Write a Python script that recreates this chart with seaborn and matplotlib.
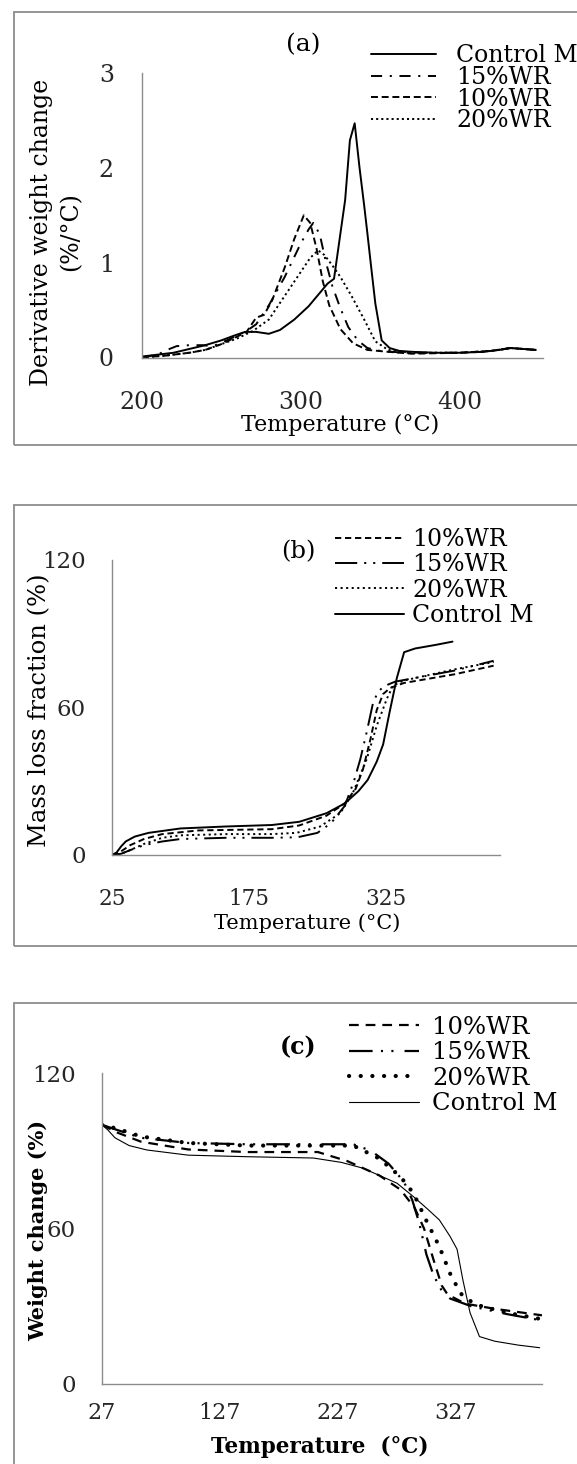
import matplotlib
matplotlib.use("Agg")
import matplotlib.pyplot as plt
from matplotlib.patches import Rectangle
import seaborn as sns

# ---- panel (a): derivative weight change (%/°C) ----
a_ctrl_t = [200, 210, 220, 230, 240, 250, 258, 265, 272, 280, 287, 296, 305, 312, 317, 321, 328, 331, 334, 337, 340, 342, 344, 347, 351, 356, 362, 370, 385, 400, 415, 425, 432, 440, 448]
a_ctrl_y = [0.01, 0.03, 0.05, 0.09, 0.13, 0.18, 0.23, 0.27, 0.27, 0.25, 0.29, 0.40, 0.54, 0.68, 0.78, 0.83, 1.66, 2.29, 2.47, 2.01, 1.60, 1.31, 1.01, 0.57, 0.18, 0.10, 0.07, 0.06, 0.05, 0.05, 0.06, 0.08, 0.10, 0.09, 0.08]
a_15_t = [200, 210, 216, 222, 230, 238, 245, 252, 260, 266, 272, 280, 290, 300, 305, 308, 312, 316, 320, 325, 330, 336, 342, 350, 365, 380, 400, 415, 425, 432, 440, 448]
a_15_y = [0.0, 0.03, 0.08, 0.12, 0.13, 0.13, 0.12, 0.17, 0.23, 0.28, 0.35, 0.55, 0.85, 1.20, 1.35, 1.42, 1.30, 1.00, 0.75, 0.52, 0.32, 0.18, 0.10, 0.07, 0.05, 0.05, 0.05, 0.06, 0.08, 0.10, 0.09, 0.08]
a_10_t = [200, 215, 230, 240, 250, 260, 266, 272, 277, 282, 290, 296, 302, 306, 310, 314, 318, 325, 333, 342, 355, 370, 400, 420, 432, 448]
a_10_y = [0.0, 0.02, 0.05, 0.08, 0.14, 0.22, 0.27, 0.42, 0.45, 0.60, 0.95, 1.25, 1.50, 1.42, 1.15, 0.80, 0.55, 0.30, 0.15, 0.08, 0.06, 0.04, 0.05, 0.07, 0.10, 0.08]
a_20_t = [200, 215, 230, 240, 250, 260, 270, 280, 290, 300, 306, 311, 315, 320, 325, 332, 340, 347, 355, 370, 400, 420, 432, 448]
a_20_y = [0.0, 0.02, 0.05, 0.08, 0.14, 0.20, 0.28, 0.40, 0.65, 0.90, 1.05, 1.13, 1.08, 0.97, 0.85, 0.65, 0.40, 0.17, 0.08, 0.05, 0.05, 0.07, 0.10, 0.08]

# ---- panel (b): mass loss fraction (%) ----
b_ctrl_t = [25, 30, 35, 40, 50, 65, 100, 150, 200, 230, 260, 280, 295, 305, 315, 322, 329, 337, 345, 357, 380, 398]
b_ctrl_y = [0, 1, 3.5, 5.5, 7.5, 9, 10.8, 11.6, 12.2, 13.5, 17, 21, 26, 30.5, 38, 45, 58, 72, 82.5, 84, 85.5, 86.8]
b_10_t = [25, 35, 45, 60, 80, 120, 200, 230, 260, 280, 292, 300, 308, 315, 322, 330, 345, 400, 443]
b_10_y = [0, 1.5, 4, 6.5, 8.5, 10, 10.5, 12, 16, 21, 27, 35, 47, 59, 65.5, 68, 70, 73.5, 77]
b_15_t = [25, 35, 45, 60, 80, 100, 150, 200, 228, 250, 265, 280, 290, 297, 304, 311, 316, 322, 335, 400, 443]
b_15_y = [0, 0.5, 2, 4, 5.5, 6.5, 7, 7, 7.2, 9, 13, 20, 30, 39, 50, 62, 66, 68.5, 70.5, 75, 79]
b_20_t = [25, 35, 45, 60, 80, 100, 150, 200, 227, 253, 275, 289, 304, 315, 326, 333, 345, 400, 443]
b_20_y = [0, 0.5, 2, 4.5, 7, 8, 8.5, 8.5, 9, 11.6, 17, 25.4, 39, 52.6, 63.5, 69, 71, 75.5, 78.5]

# ---- panel (c): weight change (%) ----
c_ctrl_t = [27, 32, 38, 50, 65, 100, 150, 206, 230, 248, 262, 277, 291, 303, 313, 322, 328, 333, 339, 347, 360, 380, 398]
c_ctrl_y = [100, 98, 95, 92, 90.3, 88.3, 87.7, 87.2, 85.5, 83.3, 80.5, 77.5, 72.3, 67.5, 63.3, 57, 52, 40, 27.5, 18.3, 16.5, 15, 14]
c_10_t = [27, 40, 60, 100, 150, 210, 235, 262, 280, 292, 300, 308, 315, 320, 335, 360, 400]
c_10_y = [100, 97, 93.5, 90.5, 89.5, 89.5, 86, 80.5, 75, 68, 60, 48, 38, 34.5, 31, 29, 26.5]
c_15_t = [27, 40, 60, 100, 150, 240, 255, 270, 283, 290, 296, 302, 308, 315, 322, 340, 370, 400]
c_15_y = [100, 98, 95, 93, 92.5, 92.5, 90, 85, 78, 71, 62, 50, 42, 36, 33, 30, 27, 24.5]
c_20_t = [27, 40, 60, 100, 150, 240, 262, 280, 291, 302, 313, 322, 328, 333, 345, 370, 400]
c_20_y = [100, 98.5, 95.5, 93, 92, 92, 87, 80, 73.6, 63, 53, 42.7, 37.5, 33.7, 30.5, 27.5, 25]

W, H = 577, 1464
GRAY = "#8c8c8c"

sns.set_style("white")
plt.rcParams["font.family"] = ["DejaVu Serif"]
plt.rcParams["lines.scale_dashes"] = False
plt.rcParams["text.color"] = "black"

fig = plt.figure(figsize=(W / 100, H / 100), dpi=100)


def fx(px):
    return px / W


def fy(py):
    return 1 - py / H


def make_axes(left, right, top, bottom):
    ax = fig.add_axes([fx(left), fy(bottom), fx(right) - fx(left), fy(top) - fy(bottom)])
    ax.set_facecolor("none")
    sns.despine(ax=ax)
    for s in ("left", "bottom"):
        ax.spines[s].set_color(GRAY)
        ax.spines[s].set_linewidth(1.0)
    ax.set_xlabel("")
    ax.set_ylabel("")
    return ax


def draw(ax, t, y, label, **kw):
    sns.lineplot(x=t, y=y, ax=ax, color="black", label=label, sort=False, **kw)


def frame(top, bottom):
    fig.add_artist(Rectangle((fx(14), fy(bottom)), 1.2, fy(top) - fy(bottom),
                             transform=fig.transFigure, fill=False, ec=GRAY, lw=1.3))


# frames around each panel
frame(12, 445)
frame(505, 946)
frame(1003, 1500)

# ---------------- (a) ----------------
ax = make_axes(141.7, 543, 73, 357.5)
draw(ax, a_ctrl_t, a_ctrl_y, "Control M", lw=1.4)
draw(ax, a_15_t, a_15_y, "15%WR", lw=1.4, linestyle=(0, (8, 5.5, 1.5, 5.5)))
draw(ax, a_10_t, a_10_y, "10%WR", lw=1.4, linestyle=(0, (5, 2.7)))
draw(ax, a_20_t, a_20_y, "20%WR", lw=1.4, linestyle=(0, (1.5, 2.2)))
ax.set_xlim(200, 452.5)
ax.set_ylim(0, 3)
ax.set_xticks([200, 300, 400])
ax.set_yticks([0, 1, 2, 3])
ax.tick_params(axis="x", length=0, pad=24, labelsize=17)
ax.tick_params(axis="y", length=0, pad=20, labelsize=17)
ax.set_xlabel("")
ax.set_ylabel("")
h, l = ax.get_legend_handles_labels()
ax.legend(h, l, loc="upper left", bbox_to_anchor=(fx(371), fy(44)), bbox_transform=fig.transFigure,
          frameon=False, fontsize=17, handlelength=65 / 23.6, handletextpad=20 / 23.6,
          labelspacing=-0.05, borderpad=0, borderaxespad=0)
fig.text(fx(303), fy(45), "(a)", fontsize=18, ha="center", va="center")
fig.text(fx(340), fy(425), "Temperature (°C)", fontsize=16, ha="center", va="center")
fig.text(fx(56), fy(232), "Derivative weight change\n(%/°C)", fontsize=17, rotation=90,
         ha="center", va="center", linespacing=1.35, multialignment="center")

# ---------------- (b) ----------------
ax = make_axes(112, 500, 560, 855)
draw(ax, b_10_t, b_10_y, "10%WR", lw=1.4, linestyle=(0, (4.5, 2.7)))
draw(ax, b_15_t, b_15_y, "15%WR", lw=1.4, linestyle=(0, (16, 5, 1.5, 5, 1.5, 5)))
draw(ax, b_20_t, b_20_y, "20%WR", lw=1.4, linestyle=(0, (1.5, 2.5)))
draw(ax, b_ctrl_t, b_ctrl_y, "Control M", lw=1.4)
ax.set_xlim(25, 450)
ax.set_ylim(0, 120)
ax.set_xticks([25, 175, 325])
ax.set_yticks([0, 60, 120])
ax.tick_params(axis="x", length=0, pad=24, labelsize=15.5)
ax.tick_params(axis="y", length=0, pad=19, labelsize=16.5)
ax.set_xlabel("")
ax.set_ylabel("")
h, l = ax.get_legend_handles_labels()
ax.legend(h, l, loc="upper left", bbox_to_anchor=(fx(335), fy(528)), bbox_transform=fig.transFigure,
          frameon=False, fontsize=17, handlelength=69 / 23.6, handletextpad=8 / 23.6,
          labelspacing=0.1, borderpad=0, borderaxespad=0)
fig.text(fx(298), fy(552), "(b)", fontsize=17.5, ha="center", va="center")
fig.text(fx(307), fy(923), "Temperature (°C)", fontsize=15, ha="center", va="center")
fig.text(fx(40), fy(710), "Mass loss fraction (%)", fontsize=17.5, rotation=90,
         ha="center", va="center")

# ---------------- (c) ----------------
ax = make_axes(102, 542, 1073, 1384)
draw(ax, c_10_t, c_10_y, "10%WR", lw=1.6, linestyle=(0, (7, 5)))
draw(ax, c_15_t, c_15_y, "15%WR", lw=1.6, linestyle=(0, (17, 6, 1.5, 6, 1.5, 8)))
draw(ax, c_20_t, c_20_y, "20%WR", lw=3.0, linestyle=(0, (0.1, 8.3)), dash_capstyle="round")
draw(ax, c_ctrl_t, c_ctrl_y, "Control M", lw=0.8)
ax.set_xlim(27, 400)
ax.set_ylim(0, 120)
ax.set_xticks([27, 127, 227, 327])
ax.set_yticks([0, 60, 120])
ax.tick_params(axis="x", length=0, pad=13, labelsize=16)
ax.tick_params(axis="y", length=0, pad=19, labelsize=16.5)
ax.set_xlabel("")
ax.set_ylabel("")
h, l = ax.get_legend_handles_labels()
ax.legend(h, l, loc="upper left", bbox_to_anchor=(fx(349), fy(1016)), bbox_transform=fig.transFigure,
          frameon=False, fontsize=17.5, handlelength=70 / 24.3, handletextpad=13 / 24.3,
          labelspacing=0.1, borderpad=0, borderaxespad=0)
fig.text(fx(298), fy(1047), "(c)", fontsize=17, fontweight="bold", ha="center", va="center")
fig.text(fx(320), fy(1447), "Temperature  (°C)", fontsize=15.5, fontweight="bold",
         ha="center", va="center")
fig.text(fx(38.6), fy(1230), "Weight change (%)", fontsize=15, fontweight="bold", rotation=90,
         ha="center", va="center")

fig.savefig("out.png", dpi=100)
